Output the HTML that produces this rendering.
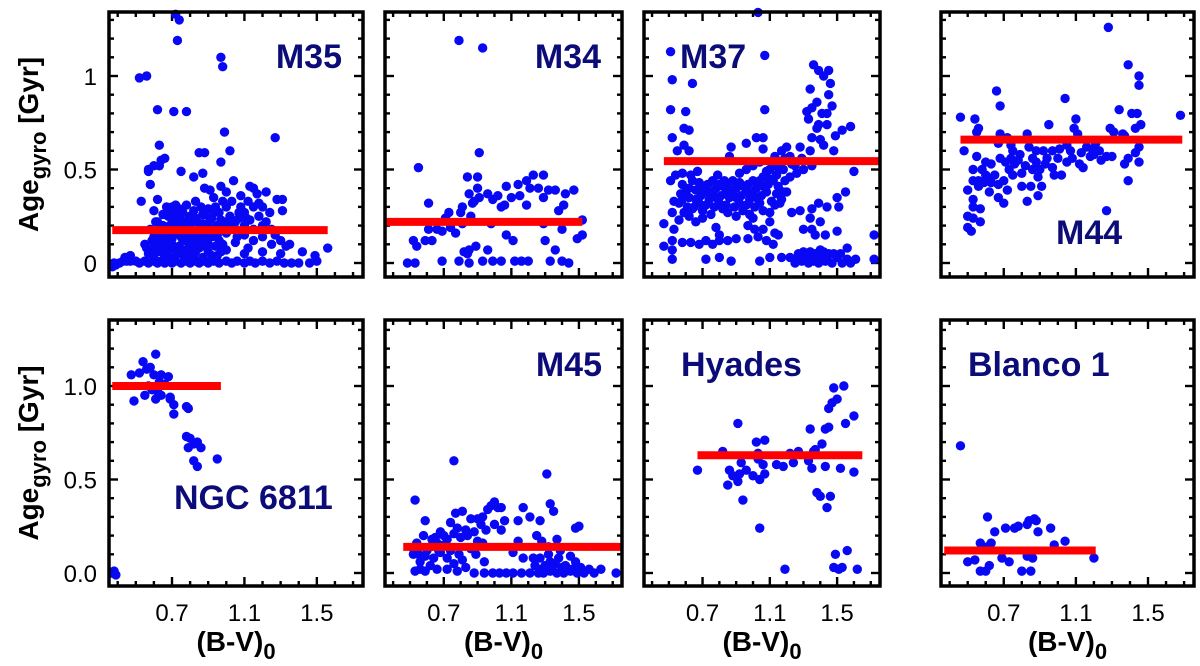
<!DOCTYPE html>
<html><head><meta charset="utf-8"><style>
html,body{margin:0;padding:0;background:#fff;}
svg{display:block;font-family:"Liberation Sans",Arial,sans-serif;}
</style></head><body>
<svg id="chart" width="1200" height="666" viewBox="0 0 1200 666" xmlns="http://www.w3.org/2000/svg"></svg>
<script>
// ---- data: [B-V, age] pairs ----
const clusterNames = ["M35","M34","M37","M44","NGC 6811","M45","Hyades","Blanco 1"];
const m35Points = [[0.37,-0.02],[0.38,0],[0.39,-0.01],[0.41,0],[0.43,0.01],[0.45,0.01],[0.47,0.01],[0.5,0.01],[0.52,0],[0.55,0.01],[0.57,0],[0.6,0.01],[0.62,0],[0.64,0.01],[0.66,0],[0.68,0.01],[0.7,0],[0.72,0.01],[0.75,0],[0.78,0.01],[0.8,0],[0.83,0.01],[0.85,0],[0.88,0.01],[0.9,0],[0.93,0.01],[0.96,0],[1.0,0.01],[1.03,0],[1.06,0.01],[1.1,0],[1.13,0.01],[1.16,0],[1.2,0.01],[1.24,0],[1.28,0.01],[1.32,0],[1.36,0],[1.4,0],[1.46,0],[1.5,0.01],[1.49,0.04],[1.56,0.08],
[0.52,0.99],[0.56,1.0],[0.62,0.82],[0.72,1.33],[0.74,1.3],[0.73,1.19],[0.71,0.81],[0.78,0.81],[0.97,1.1],[0.98,1.05],[0.99,0.7],[1.02,0.6],[1.27,0.67],[0.53,0.33],[0.63,0.63],[0.66,0.56],[0.64,0.55],[0.6,0.52],[0.63,0.52],[0.57,0.5],[0.57,0.49],[0.58,0.42],[0.75,0.49],[0.85,0.59],[0.88,0.59],[0.82,0.46],[0.87,0.48],[0.97,0.54],[0.97,0.41],[0.88,0.4],[0.91,0.39],[1.0,0.38],[1.04,0.44],[1.08,0.36],[1.13,0.41],[1.15,0.4],[1.17,0.37],[1.22,0.38],[1.28,0.34],[1.31,0.34],[1.31,0.28],[0.6,0.28],[0.62,0.34],[0.72,0.31],[0.67,0.3],
[0.62,0.22],[0.65,0.2],[0.68,0.25],[0.7,0.22],[0.72,0.26],[0.74,0.24],[0.76,0.27],[0.78,0.21],[0.8,0.25],[0.82,0.28],[0.84,0.22],[0.86,0.3],[0.88,0.26],[0.9,0.29],[0.92,0.24],[0.94,0.3],[0.96,0.27],[0.98,0.33],[1.0,0.3],[1.02,0.25],[1.05,0.22],[1.08,0.3],[1.1,0.27],[1.12,0.33],[1.15,0.3],[1.18,0.25],[1.2,0.3],[1.22,0.22],[1.25,0.18],[0.66,0.15],[0.7,0.13],[0.73,0.16],[0.76,0.12],[0.8,0.15],[0.84,0.12],[0.88,0.16],[0.92,0.14],[0.96,0.12],[1.0,0.16],[1.05,0.11],[1.1,0.15],[1.15,0.12],[1.2,0.14],[1.25,0.1],[1.3,0.12],[1.33,0.09],[0.62,0.1],[0.6,0.08],[0.64,0.06],[0.68,0.08],[0.72,0.06],[0.76,0.07],[0.8,0.05],[0.85,0.08],[0.9,0.06],[0.95,0.04],[1.0,0.07],[1.1,0.05],[1.2,0.06],[1.3,0.05],[1.42,0.06],[1.27,0.15],[1.35,0.1],[0.58,0.18],[0.61,0.22],[0.7,0.3],[0.75,0.18],[0.8,0.2],[0.85,0.18],[0.9,0.2],[0.95,0.2],[1.0,0.22],[1.05,0.18],[1.1,0.2],[1.15,0.18],[1.2,0.2],[0.78,0.12],[0.82,0.1],[0.86,0.1],[0.9,0.1],[0.94,0.09],[0.98,0.1],[0.55,0.1],[0.57,0.05],[0.6,0.03],[0.66,0.04],[0.7,0.1],[0.74,0.09],[0.77,0.03],[0.82,0.04],[0.87,0.03],[0.64,0.13],[0.68,0.17],[0.71,0.19],[0.74,0.2],[0.77,0.16],[0.79,0.23],[0.83,0.17],[0.87,0.21],[0.91,0.23],[0.94,0.17],[0.97,0.23],[0.65,0.26],[0.69,0.28],[0.74,0.29],[0.78,0.31],[0.83,0.33],[0.93,0.35],[1.03,0.33],[1.07,0.27],[1.13,0.23],[1.18,0.32],[1.06,0.14],[1.12,0.08],[1.24,0.27],[0.6,0.14],[0.56,0.08],[0.47,0.04],[0.44,0.03],
[0.63,0.17],[0.67,0.12],[0.69,0.2],[0.71,0.16],[0.73,0.23],[0.75,0.14],[0.77,0.22],[0.79,0.18],[0.81,0.13],[0.83,0.24],[0.85,0.15],[0.87,0.26],[0.89,0.13],[0.91,0.18],[0.93,0.27],[0.95,0.15],[0.99,0.19],[1.03,0.2],[1.07,0.24],[1.11,0.24],[0.67,0.05],[0.71,0.03],[0.75,0.05],[0.79,0.08],[0.83,0.06],[0.88,0.09],[0.92,0.04],[0.97,0.06],[0.59,0.12],[0.62,0.06],[0.66,0.09]];
const m34Points = [[0.485,0],[0.53,0],[0.55,0.51],[0.61,0.32],[0.52,0.12],[0.54,0.09],[0.59,0.12],[0.63,0.12],[0.61,0.18],[0.66,0.18],[0.69,0.17],[0.71,0.24],[0.73,0.27],[0.74,0.19],[0.77,0.16],[0.79,1.19],[0.93,1.15],[0.91,0.59],[0.69,0.01],[0.79,0.01],[0.85,0],[0.82,0.06],[0.85,0.07],[0.89,0.09],[0.93,0.01],[0.96,0.07],[0.99,0.01],[1.04,0.01],[1.07,0.15],[1.11,0.12],[1.12,0.01],[1.16,0.01],[1.2,0.01],[1.33,0.01],[1.36,0.07],[1.4,0.01],[1.44,0],[1.3,0.12],[1.38,0.28],[1.49,0.13],[1.52,0.15],[1.52,0.23],[0.8,0.27],[0.81,0.3],[0.84,0.46],[0.9,0.46],[0.9,0.4],[0.85,0.37],[0.87,0.32],[0.91,0.35],[0.96,0.37],[0.99,0.34],[1.02,0.36],[1.04,0.3],[1.07,0.41],[1.1,0.35],[1.14,0.42],[1.15,0.36],[1.19,0.44],[1.21,0.4],[1.19,0.31],[1.23,0.47],[1.26,0.4],[1.29,0.47],[1.32,0.39],[1.29,0.35],[1.36,0.39],[1.42,0.37],[1.47,0.39],[1.41,0.31],[0.98,0.21],[0.86,0.25],[0.81,0.21],[1.29,0.21],[1.4,0.18],[0.84,0.05],[0.88,0.33],[1.06,0.31]];
const m37Points = [[0.47,0.21],[0.47,0.09],[0.52,0.12],[0.52,0.02],[0.52,0.07],[0.51,1.13],[0.52,0.98],[0.64,0.96],[0.51,0.82],[0.6,0.81],[0.52,0.67],[0.59,0.72],[0.62,0.71],[1.03,1.34],[1.07,1.11],[1.07,0.82],[1.36,1.06],[1.39,1.03],[1.45,1.03],[1.42,1.0],[1.46,0.96],[1.34,0.93],[1.45,0.9],[1.47,0.84],[1.38,0.86],[1.35,0.83],[1.32,0.81],[1.41,0.8],[1.44,0.8],[1.33,0.77],[1.39,0.74],[1.38,0.72],[1.44,0.74],[1.58,0.73],[1.53,0.71],[1.49,0.68],[1.35,0.67],[1.4,0.66],[1.42,0.63],[1.34,0.6],[1.48,0.6],[1.28,0.62],[1.35,0.52],[1.6,0.49],[1.55,0.38],[1.72,0.15],[1.72,0.02],[1.5,0.35],[1.44,0.3],[1.51,0.3],[1.39,0.32],[1.35,0.29],[1.28,0.28],[1.23,0.27],[1.34,0.24],[1.4,0.22],[1.3,0.18],[1.35,0.18],[1.37,0.15],[1.43,0.15],[1.5,0.17],[1.56,0.08],[1.61,0.02],
[1.22,0.03],[1.25,0],[1.27,0.05],[1.29,0.01],[1.31,0.04],[1.33,0],[1.35,0.03],[1.37,0.05],[1.39,0],[1.41,0.03],[1.43,0.01],[1.45,0.05],[1.47,0],[1.5,0.03],[1.53,0],[1.56,0.02],[1.3,0.06],[1.36,0.01],[1.42,0.06],[1.48,0.05],[1.58,0],[1.26,0.02],[1.32,0.02],[1.38,0.03],[1.44,0.02],[1.52,0.05],[1.4,0.07],[1.34,0.06],
[0.72,0.02],[0.8,0.03],[0.87,0.01],[1.04,0.01],[1.1,0.03],[1.17,0.03],[0.58,0.11],[0.63,0.11],[0.68,0.1],[0.72,0.12],[0.76,0.1],[0.8,0.12],[0.85,0.12],[0.9,0.13],[0.97,0.13],[0.78,0.19],[0.8,0.15],[0.97,0.2],[0.98,0.26],[1.01,0.18],[1.03,0.14],[1.06,0.18],[1.1,0.22],[1.08,0.12],[1.13,0.16],[1.12,0.1],[1.15,0.15],[1.1,0.27],[1.06,0.28],[1.13,0.31],[1.17,0.34],[1.18,0.38],[1.19,0.44],[1.14,0.37],[0.52,0.27],[0.53,0.33],[0.51,0.44],[0.54,0.47],[0.58,0.48],[0.55,0.6],[0.59,0.63],[0.62,0.6],[0.56,0.23],[0.59,0.27],[0.53,0.18],[0.87,0.62],[0.86,0.57],[0.96,0.64],[1.02,0.67],[1.06,0.67],[1.06,0.61],[1.13,0.57],[1.17,0.6],[1.2,0.62],[1.19,0.56],[1.15,0.51],[1.23,0.53],
[0.56,0.32],[0.6,0.38],[0.64,0.44],[0.68,0.32],[0.72,0.38],[0.76,0.44],[0.8,0.32],[0.84,0.38],[0.88,0.44],[0.92,0.32],[0.96,0.38],[1.0,0.44],[1.04,0.32],[1.08,0.38],[1.12,0.44],[1.16,0.32],[1.2,0.38],[0.58,0.42],[0.62,0.35],[0.66,0.39],[0.7,0.28],[0.74,0.34],[0.78,0.4],[0.82,0.29],[0.86,0.35],[0.9,0.4],[0.94,0.28],[0.98,0.34],[1.02,0.4],[1.06,0.46],[1.1,0.5],[1.14,0.47],[1.18,0.5],[1.22,0.46],[1.25,0.52],[0.96,0.5],[1.0,0.52],[1.04,0.54],[0.92,0.48],[0.65,0.3],[0.69,0.36],[0.73,0.42],[0.77,0.3],[0.81,0.36],[0.85,0.42],[0.89,0.3],[0.93,0.36],[0.97,0.42],[1.01,0.3],[1.05,0.36],[1.09,0.42],[0.62,0.25],[0.66,0.22],[0.7,0.24],[0.75,0.26],[0.85,0.27],[0.9,0.25],[1.0,0.24],[0.63,0.47],[0.67,0.49],[0.61,0.3],[0.57,0.37],[0.83,0.44],[0.79,0.47],[1.11,0.33],[1.15,0.41],[1.26,0.48],[1.29,0.56],[1.3,0.5],
[0.58,0.34],[0.62,0.4],[0.66,0.34],[0.7,0.4],[0.74,0.37],[0.78,0.35],[0.82,0.41],[0.86,0.39],[0.9,0.35],[0.94,0.41],[0.98,0.38],[1.02,0.35],[1.06,0.41],[1.1,0.45],[1.14,0.52],[0.64,0.29],[0.68,0.43],[0.72,0.31],[0.76,0.38],[0.8,0.42],[0.84,0.31],[0.88,0.38],[0.92,0.43],[0.96,0.31],[1.0,0.38],[1.04,0.44],[1.08,0.49],[1.12,0.53],[1.18,0.55],[1.22,0.57]];
const m44Points = [[1.28,1.26],[1.39,1.06],[1.45,1.0],[1.45,0.95],[1.68,0.79],[0.46,0.78],[0.48,0.6],[0.54,0.77],[0.56,0.72],[0.55,0.7],[0.66,0.92],[0.68,0.84],[1.04,0.88],[0.95,0.74],[1.1,0.77],[1.09,0.72],[1.11,0.69],[0.83,0.69],[0.68,0.69],[0.72,0.67],[1.34,0.82],[1.41,0.8],[1.44,0.8],[1.46,0.74],[1.43,0.72],[1.29,0.72],[1.31,0.7],[1.36,0.69],[1.37,0.68],[1.45,0.62],[1.43,0.59],[1.45,0.54],[1.39,0.56],[1.37,0.53],[1.39,0.44],[1.3,0.57],[1.27,0.57],[1.24,0.55],[1.27,0.28],[1.16,0.62],[1.18,0.57],[1.14,0.51],[1.12,0.53],[1.07,0.6],[1.05,0.54],[1.02,0.47],[0.98,0.47],[0.97,0.51],[0.93,0.53],[0.92,0.6],[0.88,0.6],[0.89,0.46],[0.9,0.5],[0.86,0.5],[0.84,0.62],[0.91,0.41],[0.89,0.36],[0.83,0.33],[0.8,0.41],[0.85,0.41],[0.8,0.48],[0.78,0.55],[0.75,0.6],[0.73,0.5],[0.75,0.47],[0.72,0.39],[0.7,0.44],[0.67,0.42],[0.71,0.54],[0.68,0.56],[0.7,0.32],[0.63,0.53],[0.62,0.38],[0.61,0.45],[0.6,0.47],[0.59,0.43],[0.56,0.44],[0.56,0.41],[0.53,0.44],[0.53,0.5],[0.55,0.57],[0.6,0.54],[0.5,0.39],[0.53,0.34],[0.53,0.3],[0.57,0.29],[0.5,0.25],[0.53,0.24],[0.57,0.22],[0.5,0.19],[0.52,0.17],[0.67,0.35],[0.63,0.43],[0.74,0.63],[0.67,0.64],[1.19,0.61],[1.21,0.64],[1.01,0.61],[0.97,0.6],[0.76,0.53],[0.79,0.58],[0.82,0.52],[0.86,0.56],[0.94,0.56],[1.0,0.56],[1.08,0.56],[1.13,0.59],[1.2,0.58],[1.23,0.6],[1.05,0.63],[0.88,0.54],[0.74,0.56],[0.65,0.47],[0.58,0.5]];
const ngc6811Points = [[0.37,0],[0.37,0],[0.39,-0.01],[0.475,1.06],[0.49,0.92],[0.52,1.07],[0.54,1.13],[0.56,1.09],[0.55,0.95],[0.58,1.1],[0.6,1.06],[0.61,0.93],[0.61,1.17],[0.57,1.0],[0.59,0.98],[0.62,0.97],[0.63,1.02],[0.64,1.06],[0.64,0.95],[0.66,1.01],[0.68,1.05],[0.69,0.94],[0.69,0.93],[0.71,0.9],[0.71,0.85],[0.78,0.89],[0.79,0.88],[0.78,0.73],[0.8,0.72],[0.79,0.67],[0.82,0.69],[0.84,0.7],[0.86,0.67],[0.82,0.6],[0.84,0.57],[0.95,0.61],[0.38,0.01]];
const m45Points = [[0.53,0.39],[0.76,0.6],[1.31,0.53],[1.33,0.37],[1.35,0.33],[1.17,0.35],[1.21,0.3],[1.27,0.28],[1.14,0.28],[1.0,0.38],[1.02,0.35],[1.04,0.35],[0.98,0.36],[0.96,0.34],[0.93,0.3],[0.9,0.29],[1.06,0.28],[1.04,0.23],[1.0,0.26],[0.95,0.23],[0.86,0.29],[0.81,0.33],[0.77,0.32],[0.74,0.27],[0.78,0.24],[0.83,0.23],[0.84,0.2],[0.8,0.19],[0.76,0.21],[0.72,0.18],[0.68,0.22],[0.65,0.19],[0.63,0.18],[0.58,0.2],[0.59,0.28],[0.54,0.16],[0.52,0.1],[0.55,0.1],[0.59,0.09],[0.62,0.04],[0.68,0.11],[0.72,0.08],[0.76,0.05],[0.81,0.07],[0.83,0.03],[0.89,0.1],[0.94,0.06],[0.72,0.02],[0.53,0.01],[0.59,0.01],[0.78,0.01],[0.88,0],[0.94,0],[0.99,0],[1.03,0],[1.07,0],[1.11,0],[1.16,0],[1.21,0],[1.26,0],[1.29,0],[1.33,0.01],[1.37,0],[1.41,0],[1.45,0.01],[1.49,0],[1.53,0],[1.59,0],[1.63,0.02],[1.72,0],[1.11,0.11],[1.17,0.08],[1.23,0.08],[1.27,0.08],[1.32,0.1],[1.33,0.06],[1.38,0.08],[1.45,0.09],[1.48,0.06],[1.51,0.03],[1.25,0.2],[1.28,0.17],[1.32,0.14],[1.37,0.18],[1.48,0.24],[1.5,0.25],[1.14,0.17],[0.9,0.17],[0.93,0.16],[0.74,0.12],[0.67,0.12],[0.52,0.13],[0.62,0.14],[1.3,0.04],[1.4,0.03],[1.56,0.02],[0.56,0.06],[0.6,0.12],[0.64,0.08],[0.7,0.15],[0.79,0.1],[0.86,0.13],[0.92,0.26],[0.88,0.22],[0.7,0.2],[0.66,0.16],[1.34,0.02],[1.36,0.05],[1.42,0.04],[1.46,0.02],[1.39,0.12],[1.28,0.02],[1.24,0.04],[0.56,0.02],[0.66,0.02]];
const hyadesPoints = [[0.67,0.55],[0.82,0.65],[0.86,0.55],[0.85,0.47],[0.88,0.52],[0.91,0.49],[0.92,0.53],[0.91,0.8],[0.93,0.59],[0.94,0.39],[0.96,0.55],[1.0,0.52],[1.02,0.7],[1.03,0.64],[1.04,0.5],[1.03,0.61],[1.06,0.58],[1.07,0.53],[1.07,0.71],[1.04,0.24],[1.14,0.58],[1.19,0.02],[1.18,0.57],[1.22,0.64],[1.24,0.59],[1.27,0.65],[1.33,0.6],[1.35,0.56],[1.34,0.77],[1.37,0.66],[1.38,0.43],[1.4,0.41],[1.41,0.69],[1.43,0.77],[1.43,0.57],[1.44,0.35],[1.45,0.78],[1.45,0.88],[1.46,0.41],[1.47,0.91],[1.5,0.93],[1.48,0.99],[1.54,1.0],[1.55,0.8],[1.6,0.84],[1.6,0.54],[1.52,0.56],[1.49,0.1],[1.56,0.12],[1.48,0.03],[1.51,0.02],[1.53,0.03],[1.62,0.02],[1.36,0.65]];
const blanco1Points = [[0.46,0.68],[0.5,0.06],[0.54,0.07],[0.57,0.16],[0.57,0.01],[0.6,0.01],[0.62,0.04],[0.61,0.14],[0.63,0.16],[0.61,0.3],[0.65,0.22],[0.69,0.08],[0.73,0.06],[0.71,0.24],[0.76,0.24],[0.78,0.25],[0.8,0.01],[0.83,0.26],[0.84,0.28],[0.83,0.09],[0.86,0.08],[0.85,0.01],[0.87,0.29],[0.88,0.28],[0.89,0.22],[0.96,0.24],[0.98,0.15],[1.04,0.17],[1.2,0.08]];
const meanAges = [0.176,0.22,0.545,0.66,1.0,0.14,0.63,0.12];
const meanStart = [0.37,0.36,0.47,0.46,0.37,0.46,0.67,0.37];
const meanEnd = [1.56,1.52,1.76,1.69,0.97,1.76,1.65,1.21];
const xTickValues = [0.7,1.1,1.5];
const xTickLabels = ["0.7","1.1","1.5"];
const yTickValues = [0,0.5,1];
const yTickLabelsTop = ["0","0.5","1"];
const yTickLabelsBottom = ["0.0","0.5","1.0"];

const allPoints = [m35Points,m34Points,m37Points,m44Points,ngc6811Points,m45Points,hyadesPoints,blanco1Points];
const NS="http://www.w3.org/2000/svg";
const svg=document.getElementById('chart');
const cols=[[109,363],[385,622],[644,880],[941,1194]];
const rows=[{top:12,bot:277,y0:263,y1:76},{top:320,bot:586,y0:573,y1:386}];
const X0=0.352,X1=1.755;
const labelPos=[
 {x:342,y:68,a:"end"},{x:601,y:68,a:"end"},{x:680,y:68,a:"start"},{x:1056,y:244,a:"start"},
 {x:174,y:509,a:"start"},{x:602,y:376,a:"end"},{x:681,y:376,a:"start"},{x:968,y:376,a:"start"}];
function mk(tag,attrs,parent){const e=document.createElementNS(NS,tag);for(const k in attrs)e.setAttribute(k,attrs[k]);(parent||svg).appendChild(e);return e;}
function slug(s){return s.toLowerCase().replace(/\s+/g,'-');}

for(let p=0;p<8;p++){
  const r=rows[Math.floor(p/4)], c=cols[p%4];
  const xs=v=>c[0]+(v-X0)/(X1-X0)*(c[1]-c[0]);
  const ys=v=>r.y0+(v)*(r.y1-r.y0);
  const g=mk('g',{});
  
  
  const tk=mk('g',{stroke:'#000','stroke-width':2.4},g);
  
  
  for(let i=0;i<=13;i++){const v=i/10;const y=ys(v);if(y<r.top+2)continue;const L=(i%5===0)?9:5;
    mk('line',{x1:c[0],x2:c[0]+L,y1:y,y2:y},tk);mk('line',{x1:c[1],x2:c[1]-L,y1:y,y2:y},tk);}
  for(let i=4;i<=17;i++){const v=i/10;const x=xs(v);if(x>c[1]-2)continue;const L=((i-3)%4===0)?9:5;
    mk('line',{x1:x,x2:x,y1:r.top,y2:r.top+L},tk);mk('line',{x1:x,x2:x,y1:r.bot,y2:r.bot-L},tk);}
  const pts=allPoints[p];
  const pg=mk('g',{fill:'#0808f4'},g);
  
  
  pts.forEach(d=>{const cy=ys(d[1]);if(cy<r.top-2)return;
    const el=mk('circle',{cx:xs(d[0]),cy:cy,r:4.7},pg);
    
    });
  const ml=mk('line',{x1:xs(meanStart[p]),x2:xs(meanEnd[p]),y1:ys(meanAges[p]),y2:ys(meanAges[p]),stroke:'#ff0000','stroke-width':8},g);
  
  
  const fr=mk('rect',{x:c[0],y:r.top,width:c[1]-c[0],height:r.bot-r.top,fill:'none',stroke:'#000','stroke-width':3.5},g);
  
  
  const lp=labelPos[p];
  const t=mk('text',{x:lp.x,y:lp.y,'text-anchor':lp.a,'font-size':34,'font-weight':'bold',fill:'#0c0c78'},g);
  t.textContent=clusterNames[p];
  
  
  if(p>=4){
    xTickValues.forEach((v,i)=>{const tl=mk('text',{x:xs(v),y:621,'text-anchor':'middle','font-size':24,fill:'#000'});
      tl.textContent=xTickLabels[i];
      
      });
    const xt=mk('text',{x:(c[0]+c[1])/2,y:651,'text-anchor':'middle','font-size':28,'font-weight':'bold',fill:'#000'});
    xt.innerHTML='(B-V)<tspan dy="8" font-size="22">0</tspan>';
    
    
  }
  if(p%4===0){
    const labs=p===0?yTickLabelsTop:yTickLabelsBottom;
    yTickValues.forEach((v,i)=>{const tl=mk('text',{x:97,y:ys(v)+9,'text-anchor':'end','font-size':24,fill:'#000'});
      tl.textContent=labs[i];
      
      });
    const cy=(r.top+r.bot)/2;
    const yt=mk('text',{x:0,y:0,'text-anchor':'middle','font-size':28,'font-weight':'bold',fill:'#000',transform:`translate(38,${cy}) rotate(-90)`});
    yt.innerHTML='Age<tspan dy="8" font-size="22">gyro</tspan><tspan dy="-8"> [Gyr]</tspan>';
    
    
  }
}
</script>
</body></html>
